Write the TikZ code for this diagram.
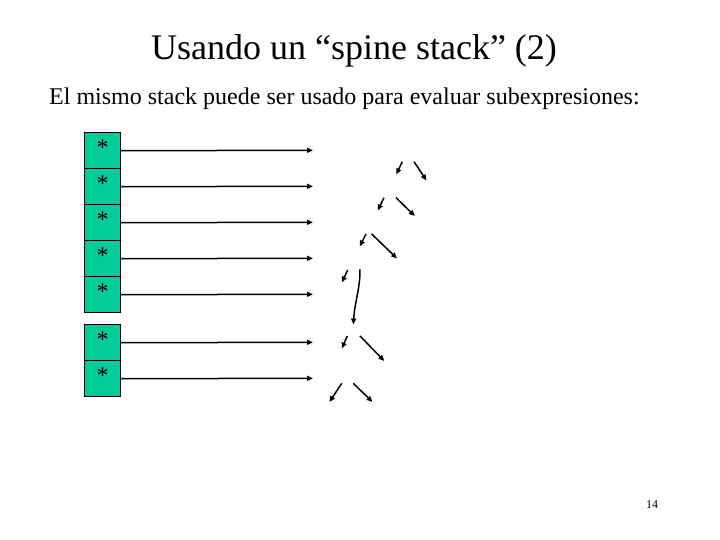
\documentclass[tikz,border=0pt]{standalone}
\usepackage{fontspec}
\setmainfont{Liberation Serif}
\usetikzlibrary{arrows.meta}
\definecolor{boxgreen}{RGB}{0,204,153}
\begin{document}
\begin{tikzpicture}[x=1pt,y=-1pt,
  cell/.style={draw=black, fill=boxgreen, line width=0.8pt, minimum width=36pt, minimum height=36pt, inner sep=0pt, anchor=north west},
  ptr/.style={line width=1.5pt, -{Triangle[length=6pt,width=5pt]}},
  star/.style={font=\fontsize{24}{24}\selectfont, inner sep=0pt}]
\useasboundingbox (0,0) rectangle (720,540);
\node[font=\fontsize{36}{40}\selectfont, anchor=base] (title) at (354,60) {Usando un “spine stack” (2)};
\node[font=\fontsize{24}{28}\selectfont, anchor=base west, inner sep=0pt] (sub) at (49,105) {El mismo stack puede ser usado para evaluar subexpresiones:};
\node[font=\fontsize{12}{14}\selectfont, anchor=base, inner sep=0pt] (pg) at (652,508) {14};
% stack cells
\foreach \i/\y in {1/132.3,2/168.3,3/204.3,4/240.3,5/276.3,6/324.3,7/360.3}{
  \node[cell] (c\i) at (84.3,\y) {};
  \node[star, anchor=base] (s\i) at ([yshift=-5pt]c\i.center) {*};
  \coordinate (e\i) at (313,\y+18);
  \draw[ptr] (c\i.east) -- (e\i);
}
% tree fragments
\coordinate (a1) at (402.3,161.7); \coordinate (b1) at (396.2,174.5);
\coordinate (a2) at (414,161.7);   \coordinate (b2) at (426.5,180.5);
\coordinate (a3) at (384,197.7);   \coordinate (b3) at (377.8,210.5);
\coordinate (a4) at (396,197.7);   \coordinate (b4) at (414.8,216);
\coordinate (a5) at (366,234);     \coordinate (b5) at (359.8,246.5);
\coordinate (a6) at (371.7,234);   \coordinate (b6) at (397,258.5);
\coordinate (a7) at (347.7,270);   \coordinate (b7) at (341.8,282.5);
\coordinate (a8) at (360,269.3);   \coordinate (b8) at (353.3,324.5);
\coordinate (a9) at (347.3,336);   \coordinate (b9) at (341.8,348.5);
\coordinate (a10) at (360,336);    \coordinate (b10) at (384.3,361);
\coordinate (a11) at (341.7,383.3);\coordinate (b11) at (329.5,402);
\coordinate (a12) at (353.3,383.3);\coordinate (b12) at (372.5,402);
\foreach \k in {1,2,3,4,5,6,7,9,10,11,12}{
  \draw[ptr] (a\k) -- (b\k);
}
\draw[ptr] (a8) .. controls (360,290) and (355,300) .. (b8);
\end{tikzpicture}
\end{document}
